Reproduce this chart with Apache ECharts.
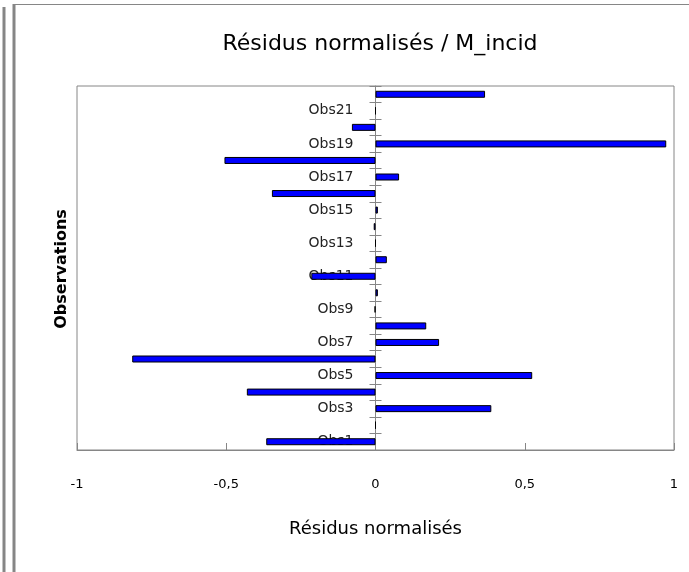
<!DOCTYPE html>
<html>
<head>
<meta charset="utf-8">
<script src="https://cdn.jsdelivr.net/npm/echarts@6/dist/echarts.min.js"></script>
<style>
  html, body { margin: 0; padding: 0; background: #fff; }
  #main { width: 689px; height: 572px; }
</style>
</head>
<body>
<div id="main"></div>
<script>
var observations = ['Obs1', 'Obs2', 'Obs3', 'Obs4', 'Obs5', 'Obs6', 'Obs7', 'Obs8', 'Obs9', 'Obs10', 'Obs11',
    'Obs12', 'Obs13', 'Obs14', 'Obs15', 'Obs16', 'Obs17', 'Obs18', 'Obs19', 'Obs20', 'Obs21', 'Obs22'];
var residus = [-0.366, 0, 0.388, -0.431, 0.525, -0.815, 0.213, 0.170, -0.003, 0.008, -0.215,
    0.038, 0, -0.006, 0.008, -0.347, 0.079, -0.506, 0.974, -0.079, 0, 0.367];
var xTicks = { min: -1, max: 1, interval: 0.5 };

onload = function () {
    var myChart = echarts.init(document.getElementById('main'));
    var grey = '#868686';
    var gridLeft = 77, gridRight = 15;
    // l'axe des catégories croise l'axe des x en 0 (milieu de la zone de tracé)
    var zeroOffset = -(689 - gridLeft - gridRight) / 2;

    myChart.setOption({
        backgroundColor: '#fff',
        animation: false,
        title: {
            text: 'Résidus normalisés / M_incid',
            left: 375,
            textAlign: 'center',
            top: 28,
            textStyle: { fontFamily: 'DejaVu Sans', fontSize: 22, fontWeight: 'normal', color: '#000' }
        },
        // cadre gris + titre de l'axe vertical
        graphic: [
            { type: 'line', shape: { x1: 4, y1: 7, x2: 4, y2: 572 }, style: { stroke: grey, lineWidth: 3 } },
            { type: 'line', shape: { x1: 14, y1: 4, x2: 14, y2: 572 }, style: { stroke: grey, lineWidth: 3 } },
            { type: 'line', shape: { x1: 13, y1: 4.5, x2: 689, y2: 4.5 }, style: { stroke: grey, lineWidth: 1 } },
            {
                type: 'text', x: 62, y: 269, rotation: Math.PI / 2,
                style: {
                    text: 'Observations', font: 'bold 16px "DejaVu Sans"', fill: '#000',
                    align: 'center', verticalAlign: 'middle'
                }
            }
        ],
        grid: {
            left: gridLeft, right: gridRight, top: 86, bottom: 122,
            show: true, borderColor: grey, borderWidth: 1
        },
        xAxis: {
            type: 'value',
            min: xTicks.min,
            max: xTicks.max,
            interval: xTicks.interval,
            name: 'Résidus normalisés',
            nameLocation: 'middle',
            nameGap: 70,
            nameTextStyle: { fontFamily: 'DejaVu Sans', fontSize: 18, color: '#000' },
            axisLine: { show: true, onZero: false, lineStyle: { color: grey } },
            axisTick: { show: true, inside: true, length: 7, lineStyle: { color: grey } },
            splitLine: { show: false },
            axisLabel: {
                margin: 28,
                fontFamily: 'DejaVu Sans', fontSize: 13, color: '#000',
                formatter: function (v) { return String(v).replace('.', ','); }
            }
        },
        yAxis: [{
            type: 'category',
            data: observations,
            position: 'left',
            offset: zeroOffset,
            axisLine: { show: true, onZero: false, lineStyle: { color: grey } },
            axisTick: { show: true, interval: 0, length: 6, lineStyle: { color: grey } },
            axisLabel: { interval: 1, margin: 22, fontFamily: 'DejaVu Sans', fontSize: 14, color: '#222' },
            splitLine: { show: false }
        }, {
            type: 'category',
            data: observations,
            position: 'left',
            offset: zeroOffset,
            axisLine: { show: false, onZero: false },
            axisTick: { show: true, interval: 0, inside: true, length: 6, lineStyle: { color: grey } },
            axisLabel: { show: false },
            splitLine: { show: false }
        }],
        series: [{
            type: 'bar',
            yAxisIndex: 0,
            data: residus,
            barWidth: 7,
            itemStyle: { color: '#0000ff', borderColor: '#000', borderWidth: 1 }
        }]
    });
};
</script>
</body>
</html>
